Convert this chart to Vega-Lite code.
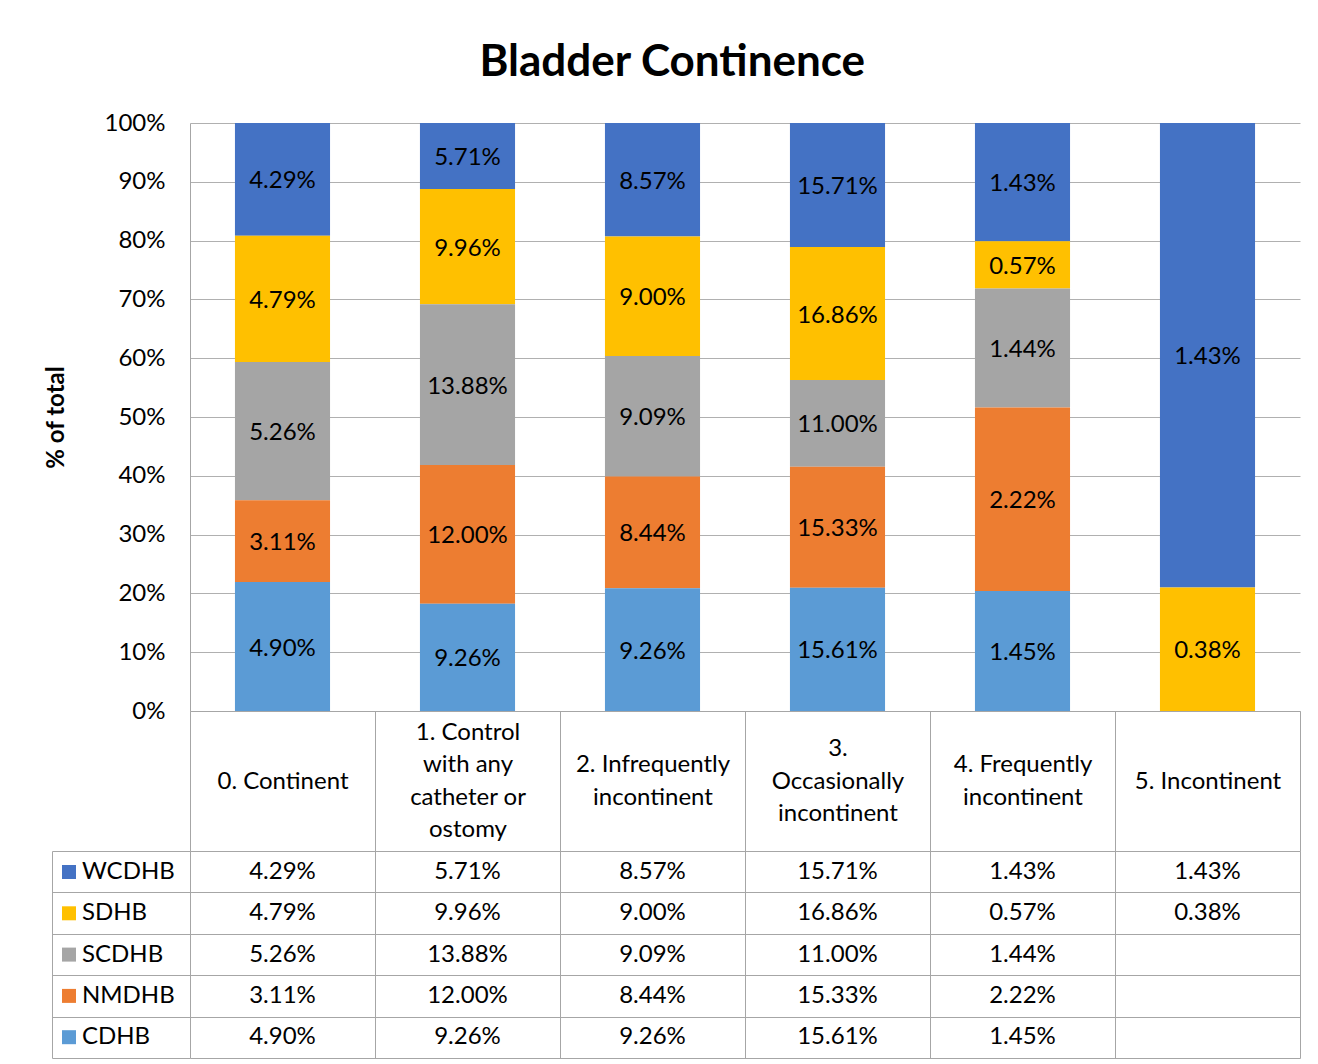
{
  "$schema": "https://vega.github.io/schema/vega-lite/v6.json",
  "padding": {"left": 44, "top": 41, "right": 10, "bottom": 5},
  "background": "white",
  "title": {"text": "Bladder Continence", "fontSize": 44, "font": "Lato", "fontWeight": "bold", "color": "#000000", "anchor": "middle", "frame": "bounds", "offset": 26},
  "config": {"view": {"stroke": null}, "font": "Lato"},
  "datasets": {
    "d": [
      {"cat": "0. Continent", "dhb": "WCDHB", "v": 0.0429},
      {"cat": "0. Continent", "dhb": "SDHB", "v": 0.0479},
      {"cat": "0. Continent", "dhb": "SCDHB", "v": 0.0526},
      {"cat": "0. Continent", "dhb": "NMDHB", "v": 0.0311},
      {"cat": "0. Continent", "dhb": "CDHB", "v": 0.0490},
      {"cat": "1. Control with any catheter or ostomy", "dhb": "WCDHB", "v": 0.0571},
      {"cat": "1. Control with any catheter or ostomy", "dhb": "SDHB", "v": 0.0996},
      {"cat": "1. Control with any catheter or ostomy", "dhb": "SCDHB", "v": 0.1388},
      {"cat": "1. Control with any catheter or ostomy", "dhb": "NMDHB", "v": 0.1200},
      {"cat": "1. Control with any catheter or ostomy", "dhb": "CDHB", "v": 0.0926},
      {"cat": "2. Infrequently incontinent", "dhb": "WCDHB", "v": 0.0857},
      {"cat": "2. Infrequently incontinent", "dhb": "SDHB", "v": 0.0900},
      {"cat": "2. Infrequently incontinent", "dhb": "SCDHB", "v": 0.0909},
      {"cat": "2. Infrequently incontinent", "dhb": "NMDHB", "v": 0.0844},
      {"cat": "2. Infrequently incontinent", "dhb": "CDHB", "v": 0.0926},
      {"cat": "3. Occasionally incontinent", "dhb": "WCDHB", "v": 0.1571},
      {"cat": "3. Occasionally incontinent", "dhb": "SDHB", "v": 0.1686},
      {"cat": "3. Occasionally incontinent", "dhb": "SCDHB", "v": 0.1100},
      {"cat": "3. Occasionally incontinent", "dhb": "NMDHB", "v": 0.1533},
      {"cat": "3. Occasionally incontinent", "dhb": "CDHB", "v": 0.1561},
      {"cat": "4. Frequently incontinent", "dhb": "WCDHB", "v": 0.0143},
      {"cat": "4. Frequently incontinent", "dhb": "SDHB", "v": 0.0057},
      {"cat": "4. Frequently incontinent", "dhb": "SCDHB", "v": 0.0144},
      {"cat": "4. Frequently incontinent", "dhb": "NMDHB", "v": 0.0222},
      {"cat": "4. Frequently incontinent", "dhb": "CDHB", "v": 0.0145},
      {"cat": "5. Incontinent", "dhb": "WCDHB", "v": 0.0143},
      {"cat": "5. Incontinent", "dhb": "SDHB", "v": 0.0038}
    ]
  },
  "bounds": "flush",
  "spacing": 140,
  "resolve": {"scale": {"x": "independent", "y": "independent", "color": "independent"}},
  "vconcat": [
    {
      "width": 1110,
      "height": 588,
      "data": {"name": "d"},
      "transform": [
        {"stack": "v", "groupby": ["cat"], "offset": "normalize", "sort": [{"field": "dhb", "order": "ascending"}], "as": ["v0", "v1"]},
        {"calculate": "(datum.v0 + datum.v1) / 2", "as": "vmid"}
      ],
      "encoding": {
        "x": {"field": "cat", "type": "nominal", "scale": {"paddingInner": 0.486, "paddingOuter": 0.243},
              "axis": {"labels": false, "ticks": false, "title": null, "domainColor": "#a6a6a6", "domainWidth": 1}}
      },
      "layer": [
        {
          "mark": {"type": "bar"},
          "encoding": {
            "y": {"field": "v0", "type": "quantitative", "stack": null, "scale": {"domain": [0, 1], "nice": false},
                  "axis": {"values": [0, 0.1, 0.2, 0.3, 0.4, 0.5, 0.6, 0.7, 0.8, 0.9, 1], "format": ".0%", "ticks": false,
                           "labelPadding": 25, "labelFontSize": 24, "labelFont": "Lato", "labelColor": "#000000",
                           "gridColor": "#b0b0b0", "domainColor": "#a6a6a6",
                           "title": "% of total", "titleFontSize": 24, "titleFont": "Lato", "titleFontWeight": "bold", "titleColor": "#000000", "titlePadding": 36}},
            "y2": {"field": "v1"},
            "color": {"field": "dhb", "type": "nominal",
                      "scale": {"domain": ["WCDHB", "SDHB", "SCDHB", "NMDHB", "CDHB"], "range": ["#4472C4", "#FFC000", "#A5A5A5", "#ED7D31", "#5B9BD5"]},
                      "legend": {"orient": "none", "legendX": -133, "legendY": 737, "title": null, "symbolType": "square", "symbolSize": 196,
                                 "symbolStrokeWidth": 0, "symbolOpacity": 1, "labelFontSize": 24, "labelFont": "Lato", "labelColor": "#000000",
                                 "rowPadding": 17.3, "padding": 0, "labelOffset": 1, "labelLimit": 200}}
          }
        },
        {
          "mark": {"type": "text", "fontSize": 24, "font": "Lato", "color": "#000000", "dy": 2},
          "encoding": {
            "y": {"field": "vmid", "type": "quantitative"},
            "text": {"field": "v", "type": "quantitative", "format": ".2%"}
          }
        }
      ]
    },
    {
      "width": 1110,
      "height": 207,
      "data": {"name": "d"},
      "mark": {"type": "text", "fontSize": 24, "font": "Lato", "color": "#000000"},
      "encoding": {
        "x": {"field": "cat", "type": "nominal", "scale": {"paddingInner": 0, "paddingOuter": 0},
              "axis": {"orient": "top", "title": null, "tickBand": "extent", "tickSize": 140, "tickColor": "#a6a6a6",
                       "domainColor": "#a6a6a6", "grid": true, "gridColor": "#a6a6a6",
                       "labelPadding": {"condition": [
                         {"test": "datum.value == '1. Control with any catheter or ostomy'", "value": -21.25},
                         {"test": "datum.value == '3. Occasionally incontinent'", "value": -37.5},
                         {"test": "datum.value == '2. Infrequently incontinent' || datum.value == '4. Frequently incontinent'", "value": -53.75}
                       ], "value": -70},
                       "labelBaseline": "middle", "labelAlign": "center", "labelAngle": 0,
                       "labelFontSize": 24, "labelFont": "Lato", "labelColor": "#000000", "labelLineHeight": 32.5,
                       "labelOverlap": false, "labelLimit": 0,
                       "labelExpr": "datum.value == '1. Control with any catheter or ostomy' ? ['1. Control', 'with any', 'catheter or', 'ostomy'] : datum.value == '2. Infrequently incontinent' ? ['2. Infrequently', 'incontinent'] : datum.value == '3. Occasionally incontinent' ? ['3.', 'Occasionally', 'incontinent'] : datum.value == '4. Frequently incontinent' ? ['4. Frequently', 'incontinent'] : datum.label"}},
        "y": {"field": "dhb", "type": "nominal", "scale": {"domain": ["WCDHB", "SDHB", "SCDHB", "NMDHB", "CDHB"], "paddingInner": 0, "paddingOuter": 0},
              "axis": {"title": null, "labels": false, "offset": 138, "tickSize": -138, "tickBand": "extent", "tickColor": "#a6a6a6",
                       "domainColor": "#a6a6a6", "grid": true, "gridColor": "#a6a6a6"}},
        "text": {"field": "v", "type": "quantitative", "format": ".2%"}
      }
    }
  ]
}
